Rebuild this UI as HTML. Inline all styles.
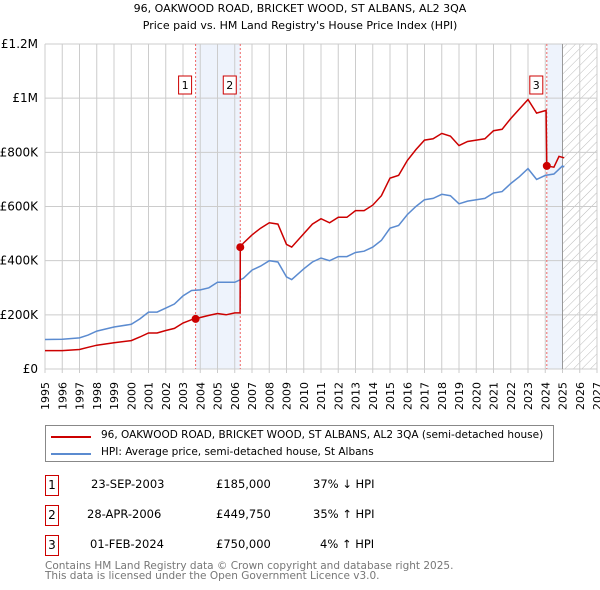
<!DOCTYPE html>
<html><head><meta charset="utf-8"><style>
body{margin:0;background:#fff;font-family:"DejaVu Sans","Liberation Sans",sans-serif;}
#wrap{position:relative;width:600px;height:590px;overflow:hidden}
.t{position:absolute;font-size:11.5px;color:#000;white-space:nowrap}
.box{position:absolute;border:1px solid #c00;width:12px;height:19px;font-size:12px;text-align:center;line-height:19px}
</style></head><body><div id="wrap">
<div class="t" style="left:0;width:600px;text-align:center;top:2px;font-size:11px">96, OAKWOOD ROAD, BRICKET WOOD, ST ALBANS, AL2 3QA</div>
<div class="t" style="left:0;width:600px;text-align:center;top:19px;font-size:11px">Price paid vs. HM Land Registry's House Price Index (HPI)</div>
<svg id="chart" width="600" height="420" style="position:absolute;left:0;top:0;font-family:'DejaVu Sans','Liberation Sans',sans-serif"></svg>
<div style="position:absolute;left:45px;top:425px;width:507px;height:35px;border:1px solid #888">
 <div style="position:absolute;left:5px;top:10px;width:40px;height:2px;background:#c00"></div>
 <div class="t" style="left:55px;top:3px;font-size:10.5px">96, OAKWOOD ROAD, BRICKET WOOD, ST ALBANS, AL2 3QA (semi-detached house)</div>
 <div style="position:absolute;left:5px;top:27px;width:40px;height:2px;background:#5b8bd0"></div>
 <div class="t" style="left:55px;top:20px;font-size:10.5px">HPI: Average price, semi-detached house, St Albans</div>
</div>
<div class="box" style="left:45px;top:475px">1</div>
<div class="t" style="left:91px;top:477px">23-SEP-2003</div>
<div class="t" style="left:216px;top:477px">£185,000</div>
<div class="t" style="left:313px;top:477px">37% ↓ HPI</div>
<div class="box" style="left:45px;top:505px">2</div>
<div class="t" style="left:87px;top:507px">28-APR-2006</div>
<div class="t" style="left:216px;top:507px">£449,750</div>
<div class="t" style="left:313px;top:507px">35% ↑ HPI</div>
<div class="box" style="left:45px;top:535px">3</div>
<div class="t" style="left:90px;top:537px">01-FEB-2024</div>
<div class="t" style="left:216px;top:537px">£750,000</div>
<div class="t" style="left:320px;top:537px">4% ↑ HPI</div>
<div class="t" style="left:45px;top:560px;color:#777;font-size:10.5px">Contains HM Land Registry data © Crown copyright and database right 2025.</div>
<div class="t" style="left:45px;top:570px;color:#777;font-size:10.5px">This data is licensed under the Open Government Licence v3.0.</div>
</div>
<script>
const yearTicks=[1995,1996,1997,1998,1999,2000,2001,2002,2003,2004,2005,2006,2007,2008,2009,2010,2011,2012,2013,2014,2015,2016,2017,2018,2019,2020,2021,2022,2023,2024,2025,2026,2027];
const valueTicks=[0,200000,400000,600000,800000,1000000,1200000];
const valueTickLabels=["£0","£200K","£400K","£600K","£800K","£1M","£1.2M"];
const hpiDates=[1995,1996,1997,1997.5,1998,1999,2000,2000.5,2001,2001.5,2002,2002.5,2003,2003.5,2004,2004.5,2005,2005.5,2006,2006.5,2007,2007.5,2008,2008.5,2009,2009.3,2010,2010.5,2011,2011.5,2012,2012.5,2013,2013.5,2014,2014.5,2015,2015.5,2016,2016.5,2017,2017.5,2018,2018.5,2019,2019.5,2020,2020.5,2021,2021.5,2022,2022.5,2023,2023.5,2024,2024.5,2025,2025.1];
const hpiValues=[109,110,115,125,140,155,165,185,210,210,225,240,270,290,292,300,320,320,320,335,365,380,400,395,340,330,370,395,410,400,415,415,430,435,450,475,520,530,570,600,625,630,645,640,610,620,625,630,650,655,685,710,740,700,715,720,750,745];
const priceDates=[1995,1996,1997,1997.5,1998,1999,2000,2000.5,2001,2001.5,2002,2002.5,2003,2003.5,2003.73,2004,2004.5,2005,2005.5,2006,2006.31,2006.32,2006.5,2007,2007.5,2008,2008.5,2009,2009.3,2010,2010.5,2011,2011.5,2012,2012.5,2013,2013.5,2014,2014.5,2015,2015.5,2016,2016.5,2017,2017.5,2018,2018.5,2019,2019.5,2020,2020.5,2021,2021.5,2022,2022.5,2023,2023.5,2024.05,2024.09,2024.5,2024.8,2025.1];
const priceValues=[68,68,72,80,88,97,105,118,133,133,142,150,170,182,185,190,198,205,200,207,207,450,465,495,520,540,535,460,450,500,535,555,540,560,560,585,585,605,640,705,715,770,810,845,850,870,860,825,840,845,850,880,885,925,960,995,945,955,750,745,785,780];
const saleDates=[2003.73,2006.32,2024.09];
const salePrices=[185000,449750,750000];
const saleLabels=["1","2","3"];

const svg=document.getElementById('chart');
const NS='http://www.w3.org/2000/svg';
const L=45,R=597,T=44,B=369;
const x=d=>L+(d-1995)/(2027-1995)*(R-L);
const y=v=>B-v/1200000*(B-T);
function mk(tag,attrs,parent){const e=document.createElementNS(NS,tag);for(const k in attrs)e.setAttribute(k,attrs[k]);(parent||svg).appendChild(e);return e;}
const defs=mk('defs',{});
const pat=mk('pattern',{id:'hatch',width:6,height:6,patternUnits:'userSpaceOnUse',patternTransform:'rotate(45)'},defs);
mk('line',{x1:0,y1:0,x2:0,y2:6,stroke:'#bbb','stroke-width':1},pat);
let s=mk('rect',{x:x(saleDates[0]),y:T,width:x(saleDates[1])-x(saleDates[0]),height:B-T,fill:'#eef3fc'});

s=mk('rect',{x:x(saleDates[2]),y:T,width:x(2025)-x(saleDates[2]),height:B-T,fill:'#eef3fc'});

s=mk('rect',{x:x(2025),y:T,width:R-x(2025),height:B-T,fill:'url(#hatch)'});

yearTicks.forEach(yr=>{
 const g=mk('line',{x1:x(yr),x2:x(yr),y1:T,y2:B+4,stroke:'#ccc','stroke-width':1});
 
 const t=mk('text',{x:0,y:0,'text-anchor':'end','font-size':11,fill:'#000',transform:'translate('+(x(yr)+4)+','+(B+13)+') rotate(-90)'});
 t.textContent=yr;
 
});
valueTicks.forEach((v,i)=>{
 const g=mk('line',{x1:L,x2:R,y1:y(v),y2:y(v),stroke:'#ccc','stroke-width':1});
 
 const t=mk('text',{x:38,y:y(v)+4,'text-anchor':'end','font-size':12,fill:'#000'});
 t.textContent=valueTickLabels[i];
 
});
const nl=mk('line',{x1:x(2025),x2:x(2025),y1:T,y2:B,stroke:'#999','stroke-width':1});

saleDates.forEach((d,i)=>{
 const l=mk('line',{x1:x(d),x2:x(d),y1:T,y2:B,stroke:'#e66','stroke-width':1,'stroke-dasharray':'2,2'});
 
});
function path(ds,vs){return ds.map((d,i)=>(i?'L':'M')+x(d).toFixed(1)+','+y(vs[i]*1000).toFixed(1)).join('');}
const hp=mk('path',{d:path(hpiDates,hpiValues),fill:'none',stroke:'#5b8bd0','stroke-width':1.5});

const pp=mk('path',{d:path(priceDates,priceValues),fill:'none',stroke:'#cc0000','stroke-width':1.5});

saleDates.forEach((d,i)=>{
 const c=mk('circle',{cx:x(d),cy:y(salePrices[i]),r:4,fill:'#cc0000'});
 
 const bx=x(d)-10;
 const r=mk('rect',{x:bx-7,y:76,width:13,height:18,fill:'#fff',stroke:'#cc0000','stroke-width':1});
 
 const t=mk('text',{x:bx-0.5,y:89,'text-anchor':'middle','font-size':11,fill:'#000'});
 t.textContent=saleLabels[i];
 
});
</script></body></html>
